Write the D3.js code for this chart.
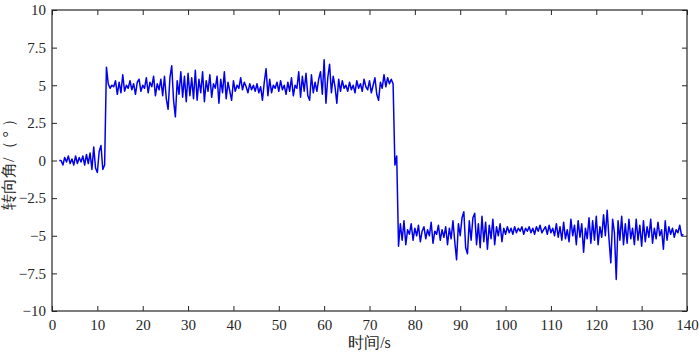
<!DOCTYPE html>
<html lang="zh">
<head>
<meta charset="UTF-8">
<title>转向角</title>
<script src="https://d3js.org/d3.v7.min.js"></script>
<style>
  body { margin: 0; background: #fff; font-family: "Liberation Serif", serif; }
</style>
</head>
<body>
<svg width="700" height="354"></svg>
<script>
    // sampling of the steering angle signal
    const t0 = 1.6;
    const dt = 0.4;

    // near zero before the turn (t 1.6 .. 11.6)
    const partBefore = [
        0.0, 0.0, -0.3, 0.2, -0.1, 0.3, -0.2, 0.1, -0.3, 0.3,
        -0.2, 0.2, -0.1, 0.3, -0.3, 0.4, -0.2, 0.5, -0.6, 0.9,
        -0.5, -0.8, 0.6, 1.0, -0.6, -0.3
    ];
    // around +5 (t 12.0 .. 75.2)
    const partLeft = [
        6.2, 5.1, 4.8, 5.0, 4.9, 5.3, 4.4, 5.2, 4.5, 5.7,
        4.6, 5.0, 4.8, 5.3, 4.7, 5.1, 4.4, 5.2, 5.4, 4.6,
        5.0, 4.8, 5.5, 4.5, 5.2, 4.9, 5.6, 4.3, 5.1, 4.7,
        5.4, 4.3, 5.6, 4.1, 3.4, 5.5, 6.3, 4.0, 2.9, 5.3,
        4.4, 5.9, 4.2, 5.6, 3.9, 5.8, 4.3, 5.5, 4.1, 6.0,
        4.0, 5.4, 4.5, 5.9, 3.9, 5.3, 4.6, 5.7, 4.2, 5.1,
        4.8, 5.6, 3.8, 5.4, 4.5, 5.9, 4.1, 5.2, 4.6, 4.0,
        5.3, 4.6, 5.0, 4.8, 5.5, 4.7, 5.2, 4.9, 4.5, 5.1,
        4.7, 5.0, 4.6, 5.1, 4.5, 4.9, 4.0, 5.2, 6.1, 4.3,
        5.4, 4.5, 5.0, 4.8, 5.2, 4.6, 5.3, 4.7, 5.0, 4.4,
        5.2, 4.6, 5.5, 4.3, 5.0, 4.8, 5.9, 4.2, 5.6, 4.6,
        5.8, 4.3, 4.0, 5.7, 4.5, 5.2, 4.6, 5.4, 5.9, 4.4,
        6.7, 3.8, 5.5, 6.4, 4.5, 5.6, 4.9, 3.8, 5.4, 4.6,
        5.3, 4.8, 5.0, 4.6, 5.2, 4.7, 5.0, 4.5, 5.3, 4.8,
        5.1, 4.6, 5.4, 4.9, 4.7, 5.3, 4.5, 5.0, 5.5, 4.4,
        4.0, 5.2, 4.8, 5.7, 4.9, 5.5, 5.1, 5.4, 5.1
    ];
    // swing across and around -5 (t 75.6 .. 139.2)
    const partRight = [
        -0.3, 0.3, -5.7,
        -4.2, -5.3, -4.0, -5.6, -4.6, -4.9, -4.2, -5.3, -4.5, -5.0,
        -4.3, -5.4, -4.7, -4.4, -5.2, -4.6, -5.0, -4.1, -5.5, -4.7,
        -4.9, -4.3, -5.3, -4.6, -5.1, -4.4, -5.6, -4.5, -5.2, -4.0,
        -5.4, -6.6, -4.2, -5.0, -3.8, -3.4, -5.8, -6.2, -4.0, -5.3,
        -3.8, -3.5, -5.6, -4.2, -5.8, -3.7, -5.4, -4.1, -5.9, -4.3,
        -5.2, -3.9, -5.6, -4.4, -5.0, -4.2, -5.4, -4.5, -4.9, -4.4,
        -4.8, -4.5, -4.9, -4.4, -4.8, -4.5, -4.7, -4.4, -4.9, -4.5,
        -4.7, -4.4, -4.8, -4.5, -4.9, -4.4, -4.7, -4.3, -4.8, -4.6,
        -4.4, -4.9, -4.3, -4.8, -4.5, -5.0, -4.2, -5.1, -4.4, -5.3,
        -4.1, -5.2, -4.6, -5.4, -3.9, -5.0, -4.3, -5.6, -4.0, -5.1,
        -4.2, -6.1, -4.5, -5.2, -3.8, -5.5, -4.0, -5.3, -3.7, -5.6,
        -4.4, -5.1, -3.6, -5.0, -3.3, -5.2, -6.8, -3.9, -4.8, -7.9,
        -4.0, -5.3, -3.7, -5.6, -4.2, -5.5, -3.9, -5.2, -4.5, -5.6,
        -3.9, -5.3, -4.3, -5.7, -4.0, -5.4, -4.4, -5.1, -3.9, -5.5,
        -4.5, -5.2, -4.1, -5.0, -4.6, -5.9, -4.0, -5.3, -4.4, -4.9,
        -4.5, -5.1, -4.6, -4.8, -4.3, -5.0, -4.9
    ];

    const xTicks = [0, 10, 20, 30, 40, 50, 60, 70, 80, 90, 100, 110, 120, 130, 140];
    const yTicks = [-10, -7.5, -5, -2.5, 0, 2.5, 5, 7.5, 10];

    const values = partBefore.concat(partLeft, partRight);
    const data = values.map((v, i) => ({t: t0 + i * dt, v: v}));

    const width = 700;
    const height = 354;
    const margin = {top: 10, right: 13, bottom: 43, left: 52};
    const innerWidth = width - margin.left - margin.right;
    const innerHeight = height - margin.top - margin.bottom;
    const axisColor = '#262626';
    const serif = 'Liberation Serif';

    const svg = d3.select('svg');
    const g = svg.append('g')
        .attr('transform', `translate(${margin.left},${margin.top})`);

    const x = d3.scaleLinear().domain([0, 140]).range([0, innerWidth]);
    const y = d3.scaleLinear().domain([-10, 10]).range([innerHeight, 0]);
    const fmt = d3.format('~g');

    // axes with inward ticks on all four sides
    function styleAxis(sel) {
        sel.attr('font-family', serif).attr('font-size', 15);
        sel.select('.domain').remove();
        sel.selectAll('line').attr('stroke', axisColor);
        sel.selectAll('text').attr('fill', axisColor).style('font-family', serif);
    }
    g.append('g')
        .attr('transform', `translate(0,${innerHeight})`)
        .call(d3.axisBottom(x).tickValues(xTicks).tickFormat(fmt).tickSizeInner(-5).tickSizeOuter(0).tickPadding(8))
        .call(styleAxis);
    g.append('g')
        .call(d3.axisTop(x).tickValues(xTicks).tickFormat('').tickSizeInner(-5).tickSizeOuter(0))
        .call(styleAxis);
    g.append('g')
        .call(d3.axisLeft(y).tickValues(yTicks).tickFormat(fmt).tickSizeInner(-5).tickSizeOuter(0).tickPadding(6))
        .call(styleAxis);
    g.append('g')
        .attr('transform', `translate(${innerWidth},0)`)
        .call(d3.axisRight(y).tickValues(yTicks).tickFormat('').tickSizeInner(-5).tickSizeOuter(0))
        .call(styleAxis);

    g.append('rect')
        .attr('width', innerWidth)
        .attr('height', innerHeight)
        .attr('fill', 'none')
        .attr('stroke', axisColor)
        .attr('stroke-width', 1.2);

    // signal
    const line = d3.line()
        .x(d => x(d.t))
        .y(d => y(d.v));
    g.append('path')
        .datum(data)
        .attr('d', line)
        .attr('fill', 'none')
        .attr('stroke', '#0000ee')
        .attr('stroke-width', 1.5)
        .attr('stroke-linejoin', 'round');

    // axis titles
    svg.append('text')
        .attr('x', margin.left + innerWidth / 2)
        .attr('y', 348)
        .attr('text-anchor', 'middle')
        .attr('font-size', 16)
        .attr('fill', axisColor)
        .style('font-family', serif)
        .text('时间/s');
    svg.append('text')
        .attr('transform', `translate(14,${margin.top + innerHeight / 2}) rotate(-90)`)
        .attr('text-anchor', 'middle')
        .attr('font-size', 16)
        .attr('fill', axisColor)
        .style('font-family', serif)
        .text('转向角/（ ° ）');
</script>
</body>
</html>
